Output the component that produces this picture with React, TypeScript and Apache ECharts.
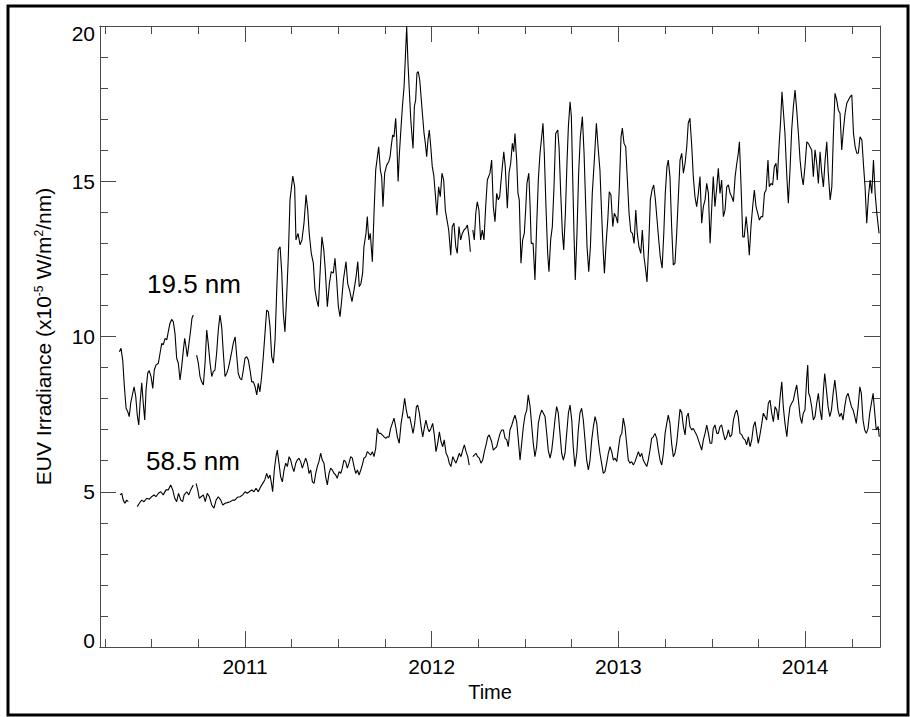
import React, { useEffect, useRef } from "react";
import * as echarts from "echarts";

// ---- axis ranges and ticks ----
const X_MIN = 2010.2234;
const X_MAX = 2014.401;
const yearTicks = [2011, 2012, 2013, 2014];
const quarterTicks = [2010.25, 2010.5, 2010.75, 2011.25, 2011.5, 2011.75, 2012.25, 2012.5, 2012.75, 2013.25, 2013.5, 2013.75, 2014.25];
const Y_MIN = 0;
const Y_MAX = 20;
const Y_STEP = 5;

const xAxisTitle = "Time";
const lineLabels = ["19.5 nm", "58.5 nm"];

// ---- 19.5 nm irradiance [decimal year, 1e-5 W/m2/nm] ----
const euv195a: [number, number][] = [
  [2010.327, 9.51], [2010.336, 9.62], [2010.345, 9.24], [2010.354, 8.38], [2010.363, 7.7], [2010.372, 7.58], [2010.38, 7.42], [2010.388, 7.86], [2010.399, 8.18], [2010.406, 8.38],
  [2010.415, 8.06], [2010.423, 7.47], [2010.431, 7.15], [2010.438, 7.86], [2010.447, 8.51], [2010.455, 7.86], [2010.463, 7.31], [2010.47, 8.28], [2010.479, 8.82], [2010.487, 8.9],
  [2010.497, 8.71], [2010.506, 8.33], [2010.514, 8.92], [2010.523, 9.08], [2010.536, 9.14], [2010.545, 9.46], [2010.554, 9.78], [2010.562, 9.73], [2010.572, 9.94], [2010.581, 9.89],
  [2010.589, 10.15], [2010.598, 10.42], [2010.607, 10.55], [2010.616, 10.48], [2010.625, 10.1], [2010.634, 9.3], [2010.643, 9.14], [2010.652, 8.6], [2010.661, 9.03], [2010.67, 9.57],
  [2010.677, 9.94], [2010.684, 9.67], [2010.691, 9.35], [2010.699, 9.73], [2010.709, 10.21], [2010.716, 10.59], [2010.723, 10.69],
];
const euv195b: [number, number][] = [
  [2010.741, 9.4], [2010.75, 9.14], [2010.759, 8.71], [2010.768, 8.54], [2010.777, 8.44], [2010.786, 9.14], [2010.795, 10.21], [2010.803, 9.78], [2010.813, 9.14], [2010.822, 8.71],
  [2010.83, 8.87], [2010.839, 8.92], [2010.848, 9.46], [2010.857, 10.21], [2010.866, 10.69], [2010.875, 10.32], [2010.884, 9.46], [2010.893, 8.71], [2010.902, 8.81], [2010.911, 8.98],
  [2010.92, 9.24], [2010.929, 9.51], [2010.937, 9.78], [2010.947, 9.99], [2010.956, 9.35], [2010.964, 8.81], [2010.973, 8.65], [2010.982, 8.6], [2010.991, 8.92], [2011.0, 9.3],
  [2011.009, 9.35], [2011.018, 9.24], [2011.027, 8.92], [2011.036, 8.54], [2011.045, 8.54], [2011.054, 8.38], [2011.063, 8.12], [2011.071, 8.49], [2011.08, 8.22], [2011.089, 8.71],
  [2011.098, 9.35], [2011.107, 10.1], [2011.116, 10.85], [2011.125, 10.8], [2011.134, 10.32], [2011.143, 9.35], [2011.152, 9.14], [2011.161, 9.89], [2011.17, 11.5], [2011.178, 12.79],
  [2011.188, 12.89], [2011.197, 12.04], [2011.205, 10.75], [2011.214, 10.15], [2011.223, 11.28], [2011.232, 12.57], [2011.241, 14.4], [2011.256, 15.17], [2011.266, 14.82], [2011.273, 13.11],
  [2011.284, 13.32], [2011.295, 12.95], [2011.305, 13.11], [2011.316, 13.65], [2011.327, 14.56], [2011.336, 14.07], [2011.344, 13.32], [2011.355, 12.68], [2011.366, 12.36], [2011.375, 11.5],
  [2011.384, 11.18], [2011.393, 10.96], [2011.402, 12.04], [2011.412, 13.21], [2011.422, 12.79], [2011.43, 12.14], [2011.441, 10.96], [2011.452, 11.71], [2011.462, 12.09], [2011.473, 12.04],
  [2011.482, 12.52], [2011.491, 11.82], [2011.5, 10.96], [2011.509, 10.64], [2011.518, 11.18], [2011.527, 11.82], [2011.541, 12.41], [2011.55, 11.71], [2011.562, 11.44], [2011.573, 11.12],
  [2011.584, 11.5], [2011.595, 11.93], [2011.604, 12.41], [2011.612, 11.6], [2011.621, 11.71], [2011.63, 12.04], [2011.637, 12.89], [2011.648, 13.32], [2011.655, 13.86], [2011.663, 13.11],
  [2011.671, 13.32], [2011.682, 12.41], [2011.691, 13.97], [2011.7, 15.36], [2011.709, 15.79], [2011.716, 16.11], [2011.725, 15.36], [2011.732, 15.15], [2011.739, 14.18], [2011.748, 15.26],
  [2011.759, 15.52], [2011.77, 15.63], [2011.777, 15.79], [2011.784, 16.17], [2011.791, 16.49], [2011.798, 16.43], [2011.807, 17.03], [2011.813, 16.33], [2011.82, 14.99], [2011.827, 15.9],
  [2011.836, 16.76], [2011.843, 17.4], [2011.852, 18.05], [2011.859, 19.01], [2011.866, 19.98], [2011.873, 18.8], [2011.88, 17.94], [2011.888, 16.97], [2011.895, 16.43], [2011.9, 16.06],
  [2011.907, 17.4], [2011.914, 17.62], [2011.921, 18.48], [2011.928, 18.53], [2011.936, 18.26], [2011.943, 17.72], [2011.95, 17.19], [2011.959, 16.54], [2011.966, 16.22], [2011.973, 15.79],
  [2011.98, 16.33], [2011.987, 16.65], [2011.995, 16.11], [2012.003, 15.47], [2012.011, 15.2], [2012.019, 14.61], [2012.028, 13.91], [2012.037, 14.82], [2012.046, 14.5], [2012.055, 15.26],
  [2012.064, 15.04], [2012.073, 14.07], [2012.082, 13.75], [2012.091, 13.43], [2012.102, 12.62], [2012.11, 13.54], [2012.119, 13.65], [2012.129, 12.89], [2012.137, 12.68], [2012.146, 13.54],
  [2012.155, 13.11], [2012.164, 13.32], [2012.173, 13.43], [2012.182, 13.48], [2012.191, 13.59], [2012.2, 13.21], [2012.207, 12.73],
];
const euv195c: [number, number][] = [
  [2012.22, 13.43], [2012.228, 13.11], [2012.236, 13.97], [2012.244, 14.34], [2012.253, 14.07], [2012.262, 13.11], [2012.271, 13.43], [2012.28, 13.11], [2012.289, 14.18], [2012.298, 15.04],
  [2012.312, 15.26], [2012.321, 15.68], [2012.33, 14.18], [2012.339, 13.7], [2012.348, 14.61], [2012.357, 14.4], [2012.364, 14.5], [2012.375, 15.26], [2012.386, 15.95], [2012.394, 15.47],
  [2012.405, 14.13], [2012.414, 15.26], [2012.423, 15.58], [2012.432, 16.22], [2012.439, 15.95], [2012.446, 16.54], [2012.455, 15.68], [2012.462, 14.61], [2012.469, 14.4], [2012.478, 12.36],
  [2012.487, 13.11], [2012.496, 13.32], [2012.504, 14.18], [2012.51, 14.93], [2012.52, 15.26], [2012.527, 14.18], [2012.533, 13.0], [2012.543, 13.0], [2012.553, 11.82], [2012.562, 13.54],
  [2012.571, 15.04], [2012.58, 15.9], [2012.589, 16.43], [2012.596, 16.87], [2012.603, 15.9], [2012.612, 14.18], [2012.621, 12.68], [2012.628, 12.09], [2012.637, 13.11], [2012.646, 13.54],
  [2012.655, 14.82], [2012.664, 16.54], [2012.675, 16.65], [2012.682, 16.11], [2012.691, 14.61], [2012.7, 13.32], [2012.707, 12.79], [2012.716, 13.97], [2012.725, 15.68], [2012.732, 16.76],
  [2012.741, 17.56], [2012.748, 17.08], [2012.755, 15.15], [2012.762, 13.32], [2012.769, 11.82], [2012.778, 13.32], [2012.787, 15.26], [2012.796, 16.43], [2012.807, 17.08], [2012.816, 15.9],
  [2012.825, 14.18], [2012.832, 12.89], [2012.841, 12.09], [2012.85, 12.89], [2012.86, 14.61], [2012.871, 15.68], [2012.882, 16.87], [2012.891, 16.11], [2012.901, 15.36], [2012.91, 13.97],
  [2012.919, 12.68], [2012.925, 12.04], [2012.934, 13.0], [2012.943, 13.75], [2012.951, 14.66], [2012.96, 14.56], [2012.97, 13.54], [2012.978, 13.97], [2012.987, 13.86], [2012.996, 13.65],
  [2013.005, 14.82], [2013.014, 16.43], [2013.021, 16.71], [2013.03, 16.22], [2013.039, 16.11], [2013.048, 15.04], [2013.057, 13.97], [2013.066, 13.38], [2013.075, 13.32], [2013.084, 13.0],
  [2013.093, 14.07], [2013.101, 13.32], [2013.11, 12.89], [2013.12, 12.68], [2013.128, 13.43], [2013.137, 12.57], [2013.146, 12.14], [2013.153, 11.76], [2013.162, 12.89], [2013.171, 14.4],
  [2013.18, 14.72], [2013.189, 14.88], [2013.198, 14.4], [2013.207, 13.75], [2013.216, 13.11], [2013.224, 12.57], [2013.234, 12.2], [2013.243, 13.32], [2013.251, 14.61], [2013.26, 15.47],
  [2013.267, 15.68], [2013.276, 15.15], [2013.285, 13.54], [2013.294, 12.3], [2013.303, 12.36], [2013.312, 13.32], [2013.321, 14.5], [2013.33, 15.68], [2013.339, 15.9], [2013.348, 15.26],
  [2013.357, 15.58], [2013.366, 16.11], [2013.374, 16.87], [2013.383, 17.03], [2013.393, 16.11], [2013.401, 15.15], [2013.41, 14.5], [2013.419, 14.18], [2013.428, 14.61], [2013.437, 15.15],
  [2013.446, 13.65], [2013.455, 14.18], [2013.464, 14.4], [2013.473, 14.93], [2013.482, 14.61], [2013.491, 13.0], [2013.5, 14.18], [2013.508, 15.15], [2013.517, 14.18], [2013.527, 14.82],
  [2013.535, 15.42], [2013.544, 14.61], [2013.553, 15.04], [2013.562, 13.86], [2013.571, 14.07], [2013.58, 14.82], [2013.589, 14.88], [2013.598, 14.61], [2013.607, 14.5], [2013.616, 14.34],
  [2013.625, 15.15], [2013.634, 15.58], [2013.642, 15.9], [2013.648, 16.27], [2013.657, 14.82], [2013.666, 13.21], [2013.674, 13.21], [2013.684, 13.86], [2013.693, 13.32], [2013.701, 12.62],
  [2013.71, 13.54], [2013.719, 14.18], [2013.728, 14.72], [2013.737, 14.18], [2013.746, 13.97], [2013.755, 13.75], [2013.764, 13.86], [2013.773, 13.86], [2013.782, 14.61], [2013.791, 14.72],
  [2013.801, 15.68], [2013.808, 14.82], [2013.817, 14.93], [2013.826, 14.88], [2013.835, 15.47], [2013.844, 15.58], [2013.851, 15.04], [2013.86, 16.11], [2013.869, 16.97], [2013.876, 17.88],
  [2013.883, 17.29], [2013.892, 16.54], [2013.902, 15.15], [2013.91, 14.29], [2013.919, 15.36], [2013.928, 16.65], [2013.937, 17.4], [2013.946, 17.94], [2013.955, 17.29], [2013.964, 16.54],
  [2013.973, 15.68], [2013.982, 15.15], [2013.99, 14.88], [2013.999, 15.47], [2014.009, 16.27], [2014.017, 16.22], [2014.026, 16.11], [2014.035, 16.01], [2014.044, 15.15], [2014.053, 16.01],
  [2014.062, 15.58], [2014.071, 14.93], [2014.08, 15.95], [2014.089, 15.26], [2014.098, 14.82], [2014.107, 15.68], [2014.116, 16.27], [2014.124, 15.26], [2014.134, 14.4], [2014.143, 14.82],
  [2014.151, 16.43], [2014.16, 17.83], [2014.169, 17.62], [2014.178, 17.29], [2014.187, 17.19], [2014.196, 16.01], [2014.205, 16.65], [2014.214, 17.19], [2014.223, 17.51], [2014.232, 17.62],
  [2014.241, 17.72], [2014.25, 17.78], [2014.259, 16.54], [2014.268, 16.11], [2014.277, 15.9], [2014.285, 15.9], [2014.294, 16.43], [2014.304, 16.33], [2014.312, 15.58], [2014.321, 14.82],
  [2014.33, 13.65], [2014.339, 14.5], [2014.348, 15.04], [2014.357, 14.61], [2014.366, 15.68], [2014.375, 14.61], [2014.384, 13.97], [2014.396, 13.32],
];

// ---- 58.5 nm irradiance [decimal year, 1e-5 W/m2/nm] ----
const euv585a: [number, number][] = [
  [2010.331, 4.9], [2010.34, 4.95], [2010.348, 4.73], [2010.357, 4.63], [2010.366, 4.73], [2010.375, 4.68],
];
const euv585b: [number, number][] = [
  [2010.423, 4.52], [2010.434, 4.63], [2010.447, 4.73], [2010.459, 4.68], [2010.474, 4.79], [2010.488, 4.76], [2010.5, 4.84], [2010.513, 4.9], [2010.523, 4.84], [2010.536, 4.95],
  [2010.549, 5.0], [2010.562, 4.9], [2010.577, 5.06], [2010.589, 5.06], [2010.602, 5.22], [2010.613, 5.06], [2010.624, 4.79], [2010.634, 4.68], [2010.644, 4.95], [2010.656, 4.73],
  [2010.666, 4.68], [2010.674, 4.9], [2010.688, 5.0], [2010.699, 4.9], [2010.709, 5.06], [2010.723, 5.22],
];
const euv585c: [number, number][] = [
  [2010.738, 5.27], [2010.747, 5.06], [2010.755, 4.79], [2010.765, 4.84], [2010.777, 4.9], [2010.787, 4.68], [2010.798, 4.95], [2010.809, 4.84], [2010.822, 4.57], [2010.834, 4.47],
  [2010.845, 4.73], [2010.857, 4.84], [2010.87, 4.73], [2010.881, 4.57], [2010.893, 4.63], [2010.905, 4.65], [2010.92, 4.68], [2010.934, 4.73], [2010.946, 4.73], [2010.959, 4.82],
  [2010.973, 4.84], [2010.988, 4.9], [2011.0, 5.0], [2011.012, 4.95], [2011.023, 5.0], [2011.036, 5.06], [2011.048, 5.0], [2011.059, 5.11], [2011.071, 5.0], [2011.084, 5.16],
  [2011.095, 5.27], [2011.106, 5.38], [2011.116, 5.59], [2011.125, 5.43], [2011.134, 5.54], [2011.143, 5.22], [2011.148, 5.0], [2011.157, 5.7], [2011.166, 6.13], [2011.173, 6.34],
  [2011.182, 5.92], [2011.191, 5.48], [2011.2, 5.32], [2011.209, 5.7], [2011.218, 5.92], [2011.227, 5.81], [2011.236, 6.13], [2011.245, 6.02], [2011.253, 5.81], [2011.262, 5.65],
  [2011.272, 5.92], [2011.28, 6.02], [2011.289, 6.08], [2011.298, 5.97], [2011.307, 5.76], [2011.316, 5.92], [2011.325, 6.08], [2011.334, 5.92], [2011.343, 5.59], [2011.352, 5.7],
  [2011.361, 5.32], [2011.37, 5.27], [2011.379, 5.59], [2011.387, 5.81], [2011.396, 5.97], [2011.405, 6.24], [2011.414, 6.02], [2011.423, 5.92], [2011.432, 5.48], [2011.441, 5.22],
  [2011.45, 5.59], [2011.459, 5.76], [2011.468, 5.7], [2011.477, 5.59], [2011.486, 5.54], [2011.494, 5.43], [2011.504, 5.65], [2011.513, 5.59], [2011.521, 5.76], [2011.53, 6.02],
  [2011.539, 5.97], [2011.548, 5.76], [2011.557, 5.92], [2011.566, 6.13], [2011.575, 6.08], [2011.584, 5.81], [2011.593, 5.59], [2011.602, 5.7], [2011.611, 5.54], [2011.62, 5.7],
  [2011.628, 5.86], [2011.637, 6.08], [2011.647, 6.13], [2011.655, 6.29], [2011.664, 6.24], [2011.673, 6.18], [2011.682, 6.29], [2011.691, 6.13], [2011.7, 6.4], [2011.709, 7.04],
  [2011.718, 6.88], [2011.727, 6.88], [2011.735, 6.83], [2011.745, 6.77], [2011.754, 6.72], [2011.762, 6.77], [2011.771, 6.76], [2011.78, 7.04], [2011.789, 7.2], [2011.798, 7.37],
  [2011.807, 7.1], [2011.816, 6.77], [2011.826, 6.56], [2011.836, 7.2], [2011.845, 7.53], [2011.855, 8.01], [2011.864, 7.63], [2011.873, 7.37], [2011.882, 7.42], [2011.891, 7.15],
  [2011.9, 6.88], [2011.909, 7.2], [2011.918, 7.74], [2011.925, 7.79], [2011.934, 7.53], [2011.943, 7.1], [2011.952, 6.77], [2011.96, 7.04], [2011.969, 7.31], [2011.979, 7.04],
  [2011.987, 6.93], [2011.996, 7.04], [2012.005, 7.2], [2012.014, 6.83], [2012.023, 6.29], [2012.032, 6.56], [2012.041, 6.93], [2012.05, 6.61], [2012.059, 6.45], [2012.067, 6.67],
  [2012.077, 6.24], [2012.086, 6.13], [2012.094, 5.92], [2012.103, 5.81], [2012.113, 6.13], [2012.121, 6.02], [2012.13, 5.92], [2012.139, 6.08], [2012.148, 6.24], [2012.157, 6.13],
  [2012.166, 6.34], [2012.175, 6.51], [2012.184, 6.29], [2012.193, 6.13], [2012.201, 5.86],
];
const euv585d: [number, number][] = [
  [2012.22, 6.13], [2012.228, 6.18], [2012.237, 6.24], [2012.246, 6.13], [2012.255, 6.08], [2012.264, 5.92], [2012.273, 6.02], [2012.282, 6.29], [2012.291, 6.51], [2012.3, 6.77],
  [2012.308, 6.83], [2012.321, 6.61], [2012.33, 6.34], [2012.339, 6.4], [2012.348, 6.45], [2012.357, 6.67], [2012.366, 6.88], [2012.375, 6.99], [2012.384, 6.99], [2012.393, 6.72],
  [2012.402, 6.67], [2012.41, 6.45], [2012.419, 6.99], [2012.429, 7.15], [2012.437, 7.31], [2012.446, 7.47], [2012.455, 7.26], [2012.464, 6.67], [2012.473, 6.02], [2012.482, 6.56],
  [2012.491, 7.1], [2012.5, 7.47], [2012.509, 7.63], [2012.517, 8.12], [2012.527, 7.74], [2012.536, 7.1], [2012.544, 6.56], [2012.553, 6.13], [2012.562, 6.45], [2012.571, 7.2],
  [2012.58, 7.47], [2012.589, 7.63], [2012.598, 7.53], [2012.607, 7.42], [2012.616, 6.88], [2012.624, 6.34], [2012.634, 6.08], [2012.643, 6.34], [2012.651, 6.77], [2012.66, 7.31],
  [2012.669, 7.74], [2012.678, 7.53], [2012.687, 6.88], [2012.696, 6.24], [2012.705, 6.02], [2012.714, 6.24], [2012.723, 6.88], [2012.732, 7.53], [2012.741, 7.79], [2012.75, 7.31],
  [2012.758, 6.45], [2012.767, 5.81], [2012.777, 6.24], [2012.785, 6.99], [2012.794, 7.53], [2012.803, 7.69], [2012.812, 7.31], [2012.821, 6.67], [2012.83, 6.02], [2012.839, 5.7],
  [2012.848, 6.02], [2012.857, 6.67], [2012.866, 7.1], [2012.875, 7.42], [2012.884, 7.2], [2012.892, 6.67], [2012.901, 6.24], [2012.91, 5.92], [2012.919, 5.59], [2012.928, 5.65],
  [2012.937, 5.92], [2012.946, 6.24], [2012.955, 6.45], [2012.964, 6.29], [2012.973, 6.02], [2012.982, 6.08], [2012.991, 5.97], [2012.999, 6.34], [2013.009, 6.77], [2013.018, 6.88],
  [2013.026, 7.37], [2013.035, 7.1], [2013.044, 6.56], [2013.053, 6.02], [2013.062, 5.92], [2013.071, 5.97], [2013.08, 5.86], [2013.089, 5.97], [2013.098, 6.13], [2013.107, 6.29],
  [2013.116, 6.13], [2013.125, 6.24], [2013.133, 6.02], [2013.142, 5.92], [2013.152, 5.81], [2013.16, 6.02], [2013.169, 6.34], [2013.178, 6.72], [2013.187, 6.77], [2013.196, 6.88],
  [2013.205, 6.72], [2013.214, 6.34], [2013.223, 6.02], [2013.232, 5.86], [2013.241, 6.24], [2013.25, 6.88], [2013.259, 7.2], [2013.267, 7.47], [2013.276, 7.2], [2013.285, 6.56],
  [2013.294, 6.13], [2013.303, 6.24], [2013.312, 6.56], [2013.321, 7.1], [2013.33, 7.66], [2013.339, 7.55], [2013.348, 7.1], [2013.357, 6.83], [2013.366, 7.42], [2013.374, 7.53],
  [2013.383, 7.1], [2013.393, 6.99], [2013.401, 7.04], [2013.41, 6.93], [2013.419, 6.83], [2013.428, 6.67], [2013.437, 6.51], [2013.446, 6.34], [2013.455, 6.67], [2013.464, 6.88],
  [2013.473, 7.15], [2013.482, 6.88], [2013.491, 6.56], [2013.5, 6.56], [2013.508, 7.04], [2013.517, 7.15], [2013.527, 6.88], [2013.535, 6.88], [2013.544, 7.1], [2013.553, 7.15],
  [2013.562, 6.88], [2013.571, 6.67], [2013.58, 6.77], [2013.589, 6.99], [2013.598, 6.77], [2013.607, 6.83], [2013.616, 7.31], [2013.625, 7.53], [2013.634, 7.63], [2013.642, 7.42],
  [2013.651, 6.88], [2013.661, 6.83], [2013.669, 6.72], [2013.678, 6.67], [2013.687, 6.51], [2013.696, 6.77], [2013.705, 6.45], [2013.714, 6.67], [2013.723, 7.1], [2013.732, 7.26],
  [2013.741, 6.88], [2013.749, 6.56], [2013.758, 6.83], [2013.768, 7.2], [2013.776, 7.53], [2013.785, 7.42], [2013.794, 7.31], [2013.803, 7.85], [2013.812, 7.95], [2013.821, 7.53],
  [2013.83, 7.26], [2013.839, 7.74], [2013.848, 7.63], [2013.856, 7.31], [2013.866, 8.06], [2013.875, 8.54], [2013.883, 7.74], [2013.892, 7.2], [2013.902, 6.77], [2013.91, 7.31],
  [2013.919, 7.74], [2013.928, 7.85], [2013.937, 7.95], [2013.946, 8.22], [2013.955, 8.44], [2013.964, 7.95], [2013.973, 7.42], [2013.982, 7.2], [2013.99, 7.53], [2013.999, 7.63],
  [2014.009, 8.71], [2014.014, 9.08], [2014.019, 8.17], [2014.026, 8.06], [2014.035, 7.74], [2014.044, 7.31], [2014.053, 7.42], [2014.062, 7.85], [2014.071, 8.17], [2014.08, 7.63],
  [2014.089, 7.31], [2014.098, 8.28], [2014.105, 8.81], [2014.114, 8.28], [2014.123, 7.74], [2014.132, 7.42], [2014.141, 7.63], [2014.15, 8.17], [2014.159, 8.6], [2014.167, 8.17],
  [2014.176, 7.63], [2014.185, 7.42], [2014.194, 7.53], [2014.203, 7.31], [2014.212, 7.74], [2014.221, 8.06], [2014.23, 8.17], [2014.239, 7.95], [2014.248, 7.74], [2014.257, 7.63],
  [2014.266, 7.42], [2014.274, 7.2], [2014.284, 7.74], [2014.293, 8.38], [2014.301, 8.17], [2014.31, 7.31], [2014.319, 6.99], [2014.328, 6.88], [2014.337, 7.04], [2014.346, 7.53],
  [2014.355, 7.85], [2014.364, 8.17], [2014.373, 7.53], [2014.381, 6.99], [2014.391, 7.1], [2014.397, 6.77],
];

const segments195 = [euv195a, euv195b, euv195c];
const segments585 = [euv585a, euv585b, euv585c, euv585d];

const FONT = "'Liberation Sans', Arial, Helvetica, sans-serif";
const AXIS_COLOR = "#4a4a4a";

export default function App() {
  const ref = useRef<HTMLDivElement>(null);

  useEffect(() => {
    document.body.style.margin = "0";
    if (!ref.current) return;
    const chart = echarts.init(ref.current, undefined, { renderer: "svg" });

    const axisLineStyle = { color: AXIS_COLOR, width: 1 };
    const xCommon = {
      type: "value" as const,
      min: X_MIN,
      max: X_MAX,
      splitLine: { show: false },
      axisLine: { show: true, onZero: false, lineStyle: axisLineStyle },
    };
    const xAxes = [
      {
        ...xCommon,
        position: "bottom",
        name: xAxisTitle,
        nameLocation: "middle",
        nameGap: 32,
        nameTextStyle: { fontFamily: FONT, fontSize: 20, color: "#000" },
        axisTick: { show: true, inside: true, length: 16, customValues: yearTicks, lineStyle: axisLineStyle },
        axisLabel: {
          show: true,
          customValues: yearTicks,
          formatter: (v: number) => String(Math.round(v)),
          fontFamily: FONT,
          fontSize: 21,
          color: "#000",
          margin: 9,
        },
      },
      {
        ...xCommon,
        position: "bottom",
        axisTick: { show: true, inside: true, length: 8, customValues: quarterTicks, lineStyle: axisLineStyle },
        axisLabel: { show: false },
      },
      {
        ...xCommon,
        position: "top",
        axisTick: { show: true, inside: true, length: 16, customValues: yearTicks, lineStyle: axisLineStyle },
        axisLabel: { show: false },
      },
      {
        ...xCommon,
        position: "top",
        axisTick: { show: true, inside: true, length: 8, customValues: quarterTicks, lineStyle: axisLineStyle },
        axisLabel: { show: false },
      },
    ];

    const yCommon = {
      type: "value" as const,
      min: Y_MIN,
      max: Y_MAX,
      interval: Y_STEP,
      splitLine: { show: false },
      axisLine: { show: true, onZero: false, lineStyle: axisLineStyle },
      axisTick: { show: true, inside: true, length: 16, lineStyle: axisLineStyle },
      minorTick: { show: true, splitNumber: 5, length: 8, lineStyle: axisLineStyle },
    };
    const yAxes = [
      {
        ...yCommon,
        position: "left",
        name: "EUV Irradiance (x10{sup|-5} W/m{sup|2}/nm)",
        nameLocation: "middle",
        nameRotate: 90,
        nameGap: 46,
        nameTextStyle: {
          fontFamily: FONT,
          fontSize: 21,
          color: "#000",
          rich: { sup: { fontFamily: FONT, fontSize: 12, color: "#000", verticalAlign: "top" } },
        },
        axisLabel: {
          show: true,
          fontFamily: FONT,
          fontSize: 21,
          lineHeight: 14,
          color: "#000",
          margin: 5,
          verticalAlignMinLabel: "bottom",
          verticalAlignMaxLabel: "top",
        },
      },
      { ...yCommon, position: "right", axisLabel: { show: false } },
    ];

    const series: any[] = [];
    segments195.forEach((seg) =>
      series.push({
        type: "line",
        name: lineLabels[0],
        data: seg,
        xAxisIndex: 0,
        yAxisIndex: 0,
        showSymbol: false,
        symbol: "none",
        lineStyle: { color: "#000", width: 1.1 },
      })
    );
    segments585.forEach((seg) =>
      series.push({
        type: "line",
        name: lineLabels[1],
        data: seg,
        xAxisIndex: 0,
        yAxisIndex: 0,
        showSymbol: false,
        symbol: "none",
        lineStyle: { color: "#000", width: 1.1 },
      })
    );

    chart.setOption({
      animation: false,
      backgroundColor: "#fff",
      grid: { left: 100, top: 26, width: 780, height: 621, containLabel: false },
      xAxis: xAxes,
      yAxis: yAxes,
      series,
      graphic: [
        {
          type: "rect",
          shape: { x: 8, y: 6, width: 900, height: 709 },
          style: { fill: "none", stroke: "#000", lineWidth: 3 },
          silent: true,
        },
        {
          type: "text",
          x: 147,
          y: 284,
          style: { text: lineLabels[0], fontFamily: FONT, fontSize: 26, fill: "#000", align: "left", verticalAlign: "middle" },
        },
        {
          type: "text",
          x: 146,
          y: 461,
          style: { text: lineLabels[1], fontFamily: FONT, fontSize: 26, fill: "#000", align: "left", verticalAlign: "middle" },
        },
      ],
    });

    return () => chart.dispose();
  }, []);

  return <div ref={ref} style={{ width: 910, height: 717 }} />;
}
